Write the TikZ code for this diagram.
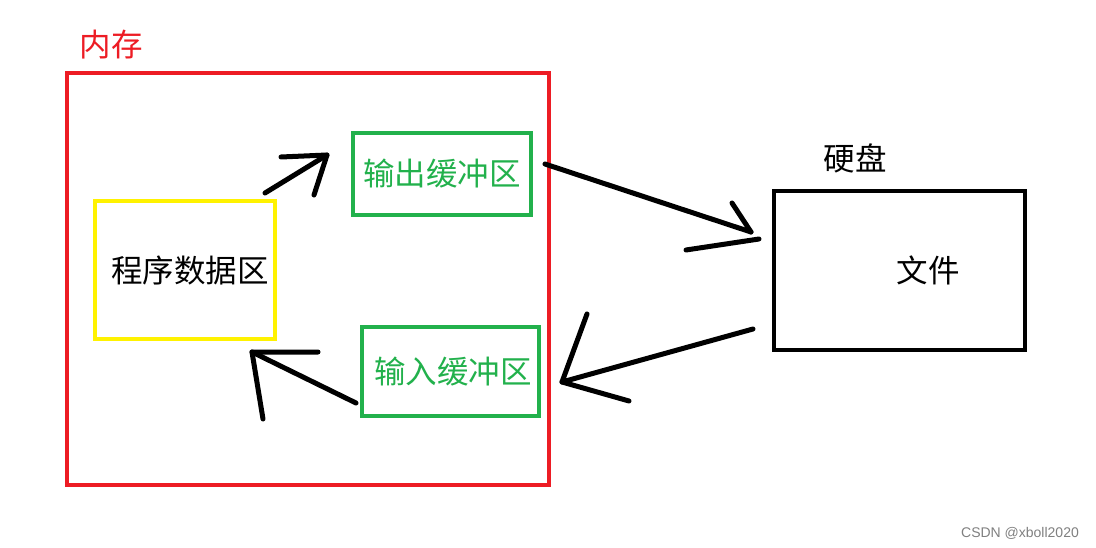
\documentclass[tikz,border=0pt]{standalone}
\usepackage{fontspec}
\newfontfamily\cjk{Noto Sans CJK SC}
\newfontfamily\wmfont{Liberation Sans}
\usetikzlibrary{positioning}
\definecolor{paintred}{RGB}{237,28,36}
\definecolor{paintyellow}{RGB}{255,242,0}
\definecolor{paintgreen}{RGB}{34,177,76}

\begin{document}
\begin{tikzpicture}[x=1pt,y=-1pt,
    box/.style={draw,line width=4pt,inner sep=0pt},
    zh/.style={font=\cjk\fontsize{31.5}{33}\selectfont},
    hand/.style={line width=5pt,line cap=round,line join=round}]
  \useasboundingbox[fill=white] (0,0) rectangle (1096,548);
  % memory and its buffers
  \node[box,draw=paintred,minimum width=482pt,minimum height=412pt] (mem) at (308,279) {};
  \node[zh,text=paintred] (memlbl) at (111,45) {内存};
  \node[box,draw=paintyellow,minimum width=180pt,minimum height=138pt,zh] (prog) at (185,270) {\hspace{10pt}程序数据区};
  \node[box,draw=paintgreen,minimum width=178pt,minimum height=82pt,zh,text=paintgreen] (outbuf) at (442,174) {输出缓冲区};
  \node[box,draw=paintgreen,minimum width=177pt,minimum height=89pt,zh,text=paintgreen] (inbuf) at (450.5,371.5) {\hspace{5pt}输入缓冲区};
  % disk
  \node[box,minimum width=251pt,minimum height=159pt] (file) at (899.5,270.5) {};
  \node[zh] (filelbl) at (928,270) {文件};
  \node[zh] (disklbl) at (855,158) {硬盘};
  % hand drawn arrows
  \coordinate (a1s) at (265,193); \coordinate (a1t) at (327,155);
  \coordinate (a1h) at (281,157); \coordinate (a1k) at (314,195);
  \coordinate (a2s) at (545,164); \coordinate (a2t) at (751,232);
  \coordinate (a2h) at (732,203); \coordinate (a2b) at (686,250); \coordinate (a2c) at (759,239);
  \coordinate (a3s) at (753,329); \coordinate (a3t) at (562,382);
  \coordinate (a3h) at (587,314); \coordinate (a3k) at (629,401);
  \coordinate (a4s) at (356,403); \coordinate (a4t) at (252,352);
  \coordinate (a4h) at (318,352); \coordinate (a4k) at (263,419);
  \draw[hand] (a1s) -- (a1t);
  \draw[hand] (a1h) -- (a1t) -- (a1k);
  \draw[hand] (a2s) -- (a2t);
  \draw[hand] (a2h) -- (a2t);
  \draw[hand] (a2b) -- (a2c);
  \draw[hand] (a3s) -- (a3t);
  \draw[hand] (a3h) -- (a3t) -- (a3k);
  \draw[hand] (a4s) -- (a4t);
  \draw[hand] (a4h) -- (a4t) -- (a4k);
  \node[font=\wmfont\fontsize{14}{16}\selectfont,text=gray] (mark) at (1020,533) {CSDN @xboll2020};
\end{tikzpicture}
\end{document}
